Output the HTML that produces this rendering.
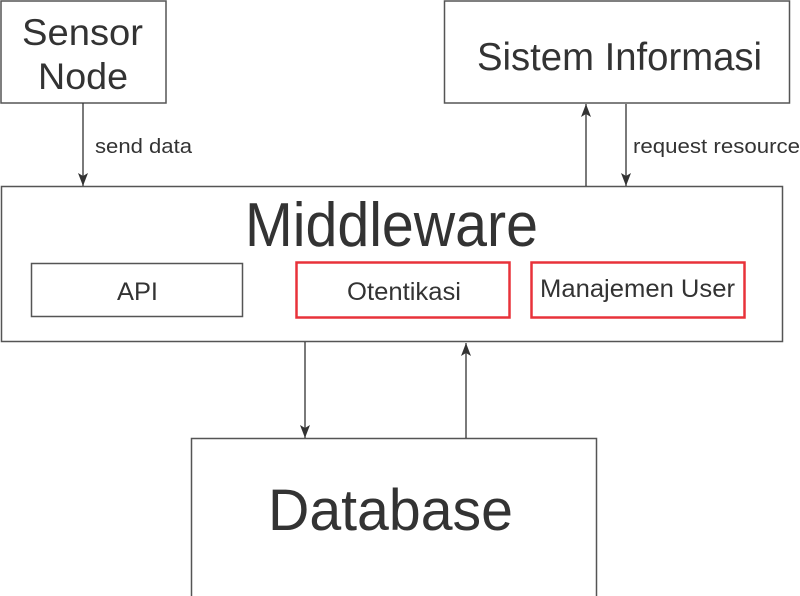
<!DOCTYPE html>
<html><head><meta charset="utf-8"><style>
html,body{margin:0;padding:0;background:#fff;}
svg{display:block;font-family:"Liberation Sans",Arial,sans-serif;}
</style></head><body>
<svg width="800" height="596" viewBox="0 0 800 596" xmlns="http://www.w3.org/2000/svg">
<defs>
<marker id="ah" markerWidth="14" markerHeight="12" refX="13" refY="5" orient="auto" markerUnits="userSpaceOnUse">
<path d="M0,0 L13,5 L0,10 L3,5 Z" fill="#333"/>
</marker>
</defs>
<g fill="#fff" stroke="#555" stroke-width="1.5">
<rect x="1" y="1" width="165" height="102"/>
<rect x="444.5" y="1" width="345" height="102"/>
<rect x="1.5" y="186.5" width="781" height="155"/>
<rect x="31.5" y="263.5" width="211" height="53"/>
<rect x="191.5" y="438.5" width="405" height="160"/>
</g>
<g fill="none" stroke="#e8323a" stroke-width="2.5">
<rect x="296.5" y="262.5" width="213" height="55"/>
<rect x="531.5" y="262.5" width="213" height="55"/>
</g>
<g stroke="#333" stroke-width="1.3" marker-end="url(#ah)">
<line x1="83" y1="103" x2="83" y2="186"/>
<line x1="586" y1="186" x2="586" y2="104"/>
<line x1="626" y1="104" x2="626" y2="186"/>
<line x1="305" y1="342" x2="305" y2="438"/>
<line x1="466" y1="438" x2="466" y2="343"/>
</g>
<g fill="#333">
<text x="22" y="45" font-size="37" textLength="121" lengthAdjust="spacingAndGlyphs">Sensor</text>
<text x="38" y="89" font-size="37" textLength="90" lengthAdjust="spacingAndGlyphs">Node</text>
<text x="477" y="70" font-size="39" textLength="285" lengthAdjust="spacingAndGlyphs">Sistem Informasi</text>
<text x="245" y="246" font-size="62" textLength="293" lengthAdjust="spacingAndGlyphs">Middleware</text>
<text x="117" y="300" font-size="25" textLength="41" lengthAdjust="spacingAndGlyphs">API</text>
<text x="347" y="300" font-size="25" textLength="114" lengthAdjust="spacingAndGlyphs">Otentikasi</text>
<text x="540" y="297" font-size="25" textLength="195" lengthAdjust="spacingAndGlyphs">Manajemen User</text>
<text x="268" y="530" font-size="58" textLength="245" lengthAdjust="spacingAndGlyphs">Database</text>
<text x="95" y="153" font-size="20" textLength="97" lengthAdjust="spacingAndGlyphs">send data</text>
<text x="633" y="153" font-size="20" textLength="167" lengthAdjust="spacingAndGlyphs">request resource</text>
</g>
</svg>
</body></html>
